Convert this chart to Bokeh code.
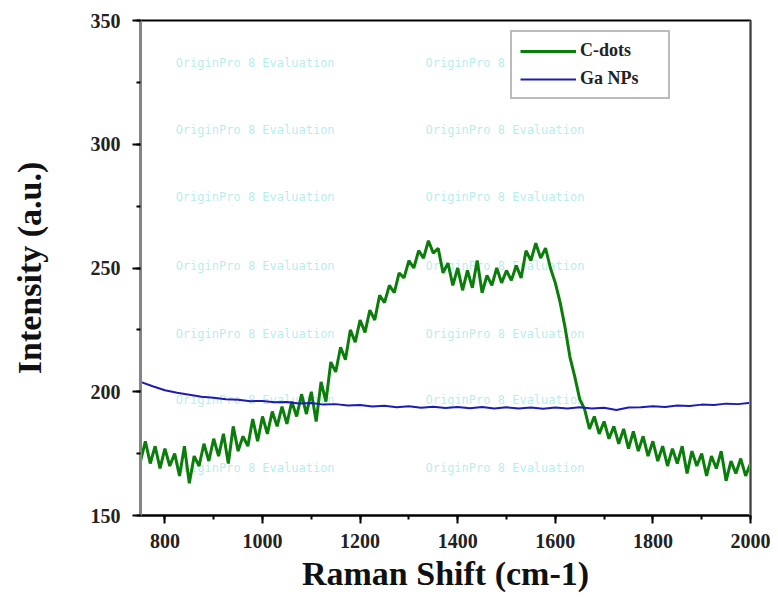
from bokeh.plotting import figure
from bokeh.models import SingleIntervalTicker, Span, Legend, LegendItem
from bokeh.core.properties import value
from bokeh.embed import file_html
from bokeh.resources import INLINE

# ---- data ----
cdots_x = list(range(750, 2001, 10))
cdots_y = [
    172, 180, 171, 178, 169, 177, 170, 175, 166, 178,   # 750-840
    163, 174, 170, 179, 172, 181, 174, 183, 171, 186,   # 850-940
    176, 182, 178, 189, 180, 190, 183, 192, 186, 194,   # 950-1040
    187, 196, 190, 199, 191, 200, 188, 204, 196, 212,   # 1050-1140
    208, 218, 213, 225, 220, 229, 224, 233, 229, 239,   # 1150-1240
    236, 243, 240, 248, 246, 253, 250, 257, 254, 261,   # 1250-1340
    256, 258, 248, 252, 243, 250, 241, 249, 242, 253,   # 1350-1440
    240, 247, 243, 250, 244, 249, 245, 251, 246, 257,   # 1450-1540
    253, 260, 254, 258, 250, 244, 236, 226, 214, 206,   # 1550-1640
    197, 193, 185, 190, 183, 188, 181, 186, 179, 185,   # 1650-1740
    177, 184, 176, 182, 174, 180, 172, 178, 170, 177,   # 1750-1840
    171, 178, 167, 176, 170, 175, 166, 174, 169, 176,   # 1850-1940
    164, 172, 167, 173, 166, 171,                       # 1950-2000
]
ga_x = list(range(750, 2001, 25))
ga_y = [
    204.0, 202.2, 200.6, 199.6, 198.8, 198.0, 197.6, 197.0, 196.8, 196.2,
    196.3, 195.8, 195.9, 195.3, 195.5, 194.8, 195.0, 194.4, 194.6, 194.0,
    194.3, 193.7, 194.1, 193.5, 193.9, 193.4, 193.8, 193.3, 193.8, 193.2,
    193.7, 193.2, 193.6, 193.1, 193.6, 193.2, 193.7, 193.2, 193.5, 192.6,
    193.6, 193.7, 194.1, 193.8, 194.4, 194.2, 194.8, 194.6, 195.2, 195.0,
    195.6,
]
series_names = ["C-dots", "Ga NPs"]
x_title = "Raman Shift (cm-1)"
y_title = "Intensity (a.u.)"
watermark = "OriginPro 8 Evaluation"
wm_cols = [822, 1334]
wm_rows = [333, 305.6, 278.5, 251, 223.5, 196.5, 169]

# ---- figure ----
p = figure(width=778, height=600, x_range=(750, 2000), y_range=(150, 350),
           output_backend="svg", toolbar_location=None,
           min_border_left=140, min_border_right=28, min_border_top=20, min_border_bottom=85)
p.background_fill_color = "white"
p.border_fill_color = "white"
p.xgrid.visible = False
p.ygrid.visible = False
p.outline_line_color = "black"
p.outline_line_width = 2

# watermark texts
wx, wy = [], []
for r in wm_rows:
    for c in wm_cols:
        wx.append(c); wy.append(r)
p.text(x=wx, y=wy, text=[watermark] * len(wx), text_font=value("DejaVu Sans Mono"),
       text_font_size="12px", text_color="#7fe2e4", text_alpha=0.6,
       text_baseline="middle", text_align="left")

g = p.line(cdots_x, cdots_y, line_color="#0b7d0b", line_width=3)
b = p.line(ga_x, ga_y, line_color="#1c1cb4", line_width=2)

p.add_layout(Span(location=2000, dimension="height", line_color="#858585", line_width=3))

legend = Legend(items=[LegendItem(label=series_names[0], renderers=[g]),
                       LegendItem(label=series_names[1], renderers=[b])],
                location=(370, 416))
legend.label_text_font = "Liberation Serif"
legend.label_text_font_style = "bold"
legend.label_text_font_size = "18px"
legend.label_text_color = "#222222"
legend.glyph_width = 56
legend.glyph_height = 20
legend.label_height = 20
legend.label_width = 80
legend.label_standoff = 4
legend.spacing = 7
legend.padding = 8
legend.margin = 0
legend.border_line_color = "#777777"
legend.border_line_width = 2
legend.background_fill_alpha = 1
p.add_layout(legend)

for ax in (p.xaxis[0], p.yaxis[0]):
    ax.major_label_text_font = "Liberation Serif"
    ax.major_label_text_font_style = "bold"
    ax.major_label_text_font_size = "20px"
    ax.major_label_text_color = "#222222"
    ax.axis_label_text_font = "Liberation Serif"
    ax.axis_label_text_font_style = "bold"
    ax.axis_label_text_color = "#111111"
    ax.major_tick_in = 0
    ax.major_tick_out = 8
    ax.minor_tick_in = 0
    ax.minor_tick_out = 4
    ax.major_tick_line_width = 2
    ax.minor_tick_line_width = 2
    ax.major_tick_line_color = "black"
    ax.minor_tick_line_color = "black"

p.xaxis.ticker = SingleIntervalTicker(interval=200, num_minor_ticks=2)
p.yaxis.ticker = SingleIntervalTicker(interval=50, num_minor_ticks=2)
p.xaxis.axis_label = x_title
p.yaxis.axis_label = y_title
p.xaxis.axis_label_text_font_size = "34px"
p.yaxis.axis_label_text_font_size = "34px"
p.xaxis.axis_line_color = "black"
p.xaxis.axis_line_width = 2
p.yaxis.axis_line_color = "#858585"
p.yaxis.axis_line_width = 3
p.xaxis.major_label_standoff = 10
p.yaxis.major_label_standoff = 12
p.xaxis.axis_label_standoff = 4
p.yaxis.axis_label_standoff = 40

open("out.html", "w").write(file_html(p, INLINE))
